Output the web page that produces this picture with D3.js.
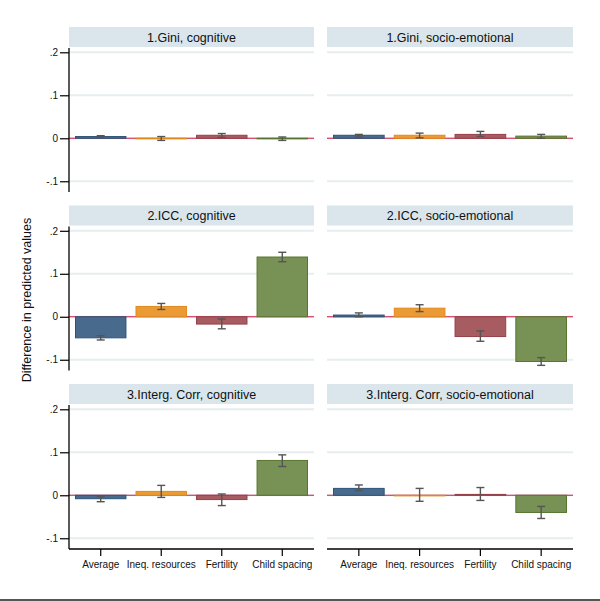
<!DOCTYPE html>
<html>
<head>
<meta charset="utf-8">
<script src="https://cdn.jsdelivr.net/npm/d3@7/dist/d3.min.js"></script>
<style>
  html, body { margin: 0; padding: 0; background: #fff; }
  svg { display: block; font-family: "Liberation Sans", Arial, sans-serif; }
</style>
</head>
<body>
<svg id="chart" width="600" height="601"></svg>
<script>
// ---- data ----
const categories = ["Average", "Ineq. resources", "Fertility", "Child spacing"];
const panelTitles = [
  "1.Gini, cognitive", "1.Gini, socio-emotional",
  "2.ICC, cognitive", "2.ICC, socio-emotional",
  "3.Interg. Corr, cognitive", "3.Interg. Corr, socio-emotional"
];
const values = [
  [0.004, -0.001, 0.007, -0.001],
  [0.007, 0.007, 0.009, 0.005],
  [-0.049, 0.024, -0.017, 0.139],
  [0.004, 0.020, -0.046, -0.104],
  [-0.008, 0.009, -0.010, 0.081],
  [0.016, -0.0005, 0.002, -0.040]
];
const ciLow = [
  [0.002, -0.005, 0.002, -0.005],
  [0.003, 0.001, 0.004, 0.000],
  [-0.054, 0.017, -0.028, 0.128],
  [0.000, 0.012, -0.057, -0.113],
  [-0.015, -0.005, -0.024, 0.067],
  [0.011, -0.014, -0.012, -0.054]
];
const ciHigh = [
  [0.006, 0.004, 0.011, 0.003],
  [0.009, 0.012, 0.016, 0.009],
  [-0.044, 0.031, -0.005, 0.150],
  [0.009, 0.028, -0.033, -0.095],
  [-0.003, 0.023, 0.003, 0.094],
  [0.024, 0.016, 0.018, -0.026]
];
const yTicks = [0.2, 0.1, 0, -0.1];
const yTickLabels = [".2", ".1", "0", "-.1"];
const yTitle = "Difference in predicted values";
const fills = ["#486a8c", "#eb9b36", "#a65c61", "#789155"];
const strokes = ["#2c5479", "#e08a1c", "#94404a", "#577530"];

// ---- layout ----
const svg = d3.select("#chart");
const colX = [[69, 314], [327, 573]];
const rowTop = [48, 226.5, 405];
const plotH = 144;
const headerH = 20;

yTicks; // used below
panelTitles.forEach((title, i) => {
  const row = Math.floor(i / 2), col = i % 2;
  const [x0, x1] = colX[col];
  const top = rowTop[row];
  const g = svg.append("g");

  const y = d3.scaleLinear().domain([-0.125, 0.21]).range([top + plotH, top]);
  const x = d3.scaleBand().domain(categories).range([x0 + 6, x1 - 6]).paddingInner(0.15).paddingOuter(0);

  // header
  g.append("rect").attr("x", x0).attr("y", top - headerH - 1).attr("width", x1 - x0).attr("height", headerH)
    .attr("fill", "#dae6ec");
  g.append("text").attr("x", (x0 + x1) / 2).attr("y", top - headerH - 1 + headerH / 2 + 4.5)
    .attr("text-anchor", "middle").attr("font-size", 12.5).attr("fill", "#111").text(title);

  // grid
  g.selectAll(".grid").data(yTicks).enter().append("line")
    .attr("x1", x0).attr("x2", x1)
    .attr("y1", d => y(d)).attr("y2", d => y(d))
    .attr("stroke", "#e6eef0").attr("stroke-width", 2);

  // zero line
  g.append("line").attr("x1", x0).attr("x2", x1).attr("y1", y(0)).attr("y2", y(0))
    .attr("stroke", "#d01c4b").attr("stroke-width", 1.2);

  // bars
  g.selectAll(".bar").data(values[i]).enter().append("rect")
    .attr("x", (d, k) => x(categories[k]) + 0.5)
    .attr("width", x.bandwidth() - 1)
    .attr("y", d => Math.min(y(d), y(0)))
    .attr("height", d => Math.max(0.6, Math.abs(y(d) - y(0))))
    .attr("fill", (d, k) => fills[k])
    .attr("stroke", (d, k) => strokes[k])
    .attr("stroke-width", 1);

  // error bars
  const eg = g.append("g").attr("stroke", "#555").attr("stroke-width", 1.4).attr("fill", "none");
  categories.forEach((c, k) => {
    const cx = x(c) + x.bandwidth() / 2;
    const yl = y(ciLow[i][k]), yh = y(ciHigh[i][k]);
    eg.append("line").attr("x1", cx).attr("x2", cx).attr("y1", yl).attr("y2", yh);
    eg.append("line").attr("x1", cx - 4).attr("x2", cx + 4).attr("y1", yl).attr("y2", yl);
    eg.append("line").attr("x1", cx - 4).attr("x2", cx + 4).attr("y1", yh).attr("y2", yh);
  });

  // y axis (left column)
  if (col === 0) {
    const ax = g.append("g").attr("transform", `translate(${x0},0)`)
      .call(d3.axisLeft(y).tickValues(yTicks).tickSize(9).tickPadding(2)
        .tickFormat((d, k) => yTickLabels[k]));
    ax.select(".domain").attr("stroke", "#000").attr("stroke-width", 1.3).attr("d", `M0,${top}V${top + plotH}`);
    ax.selectAll(".tick line").attr("stroke", "#000").attr("stroke-width", 1.2);
    ax.selectAll(".tick text").attr("font-size", 10).attr("fill", "#111")
      .attr("font-family", "'Liberation Sans', Arial, sans-serif");
  }

  // x axis (bottom row)
  if (row === 2) {
    const xc = d3.scaleBand().domain(categories).range([x0 + 6, x1 - 6]).paddingInner(0.15).paddingOuter(0);
    const ax = g.append("g").attr("transform", `translate(0,${top + plotH})`)
      .call(d3.axisBottom(xc).tickSize(7).tickPadding(5));
    ax.select(".domain").attr("stroke", "#000").attr("stroke-width", 1.3).attr("d", `M${x0},0H${x1}`);
    ax.selectAll(".tick line").attr("stroke", "#000").attr("stroke-width", 1.2);
    ax.selectAll(".tick text").attr("font-size", 10).attr("fill", "#111")
      .attr("font-family", "'Liberation Sans', Arial, sans-serif");
  }
});

// y title
svg.append("text")
  .attr("transform", "translate(31,300) rotate(-90)")
  .attr("text-anchor", "middle").attr("font-size", 12.5).attr("fill", "#111")
  .text(yTitle);

// bottom border line
svg.append("line").attr("x1", 0).attr("x2", 600).attr("y1", 600).attr("y2", 600)
  .attr("stroke", "#555").attr("stroke-width", 2);
</script>
</body>
</html>
